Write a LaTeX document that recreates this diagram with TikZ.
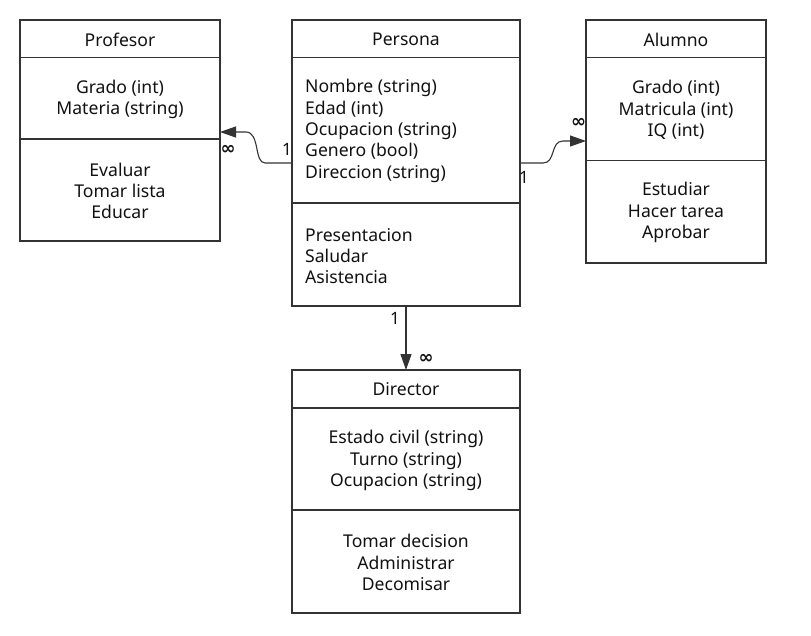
\documentclass[tikz,border=0pt]{standalone}
\usepackage{fontspec}
\setmainfont{Noto Sans}
\newfontfamily\symfont{DejaVu Sans}
\usetikzlibrary{arrows.meta}
\definecolor{ln}{HTML}{333333}
\definecolor{tx}{HTML}{111111}
\tikzset{
  umlbox/.style={draw=ln,line width=1.6pt,rectangle,inner sep=0pt,outer sep=0pt,anchor=north west},
  sep/.style={draw=ln,line width=1.6pt},
  txt/.style={text=tx,font=\fontsize{17.6}{21.3}\selectfont,inner sep=0pt,align=center},
  txtl/.style={text=tx,font=\fontsize{17.6}{21.3}\selectfont,inner sep=0pt,align=left,anchor=west},
  conn/.style={draw=ln,line width=1.1pt,-{Triangle[length=16pt,width=11pt]}},
  mult/.style={text=tx,font=\fontsize{17}{18}\selectfont,inner sep=0pt},
  inf/.style={text=tx,font=\symfont\bfseries\fontsize{18}{18}\selectfont,inner sep=0pt}
}
\begin{document}
\begin{tikzpicture}[x=1pt,y=-1pt]
\useasboundingbox (0,0) rectangle (811,635);

% Profesor
\node[umlbox,minimum width=200pt,minimum height=221pt] (prof) at (20,20) {};
\draw[sep] (20,57.5) -- (220,57.5);
\draw[sep] (20,139) -- (220,139);
\node[txt] (profT) at (120,39.5) {Profesor};
\node[txt] (profA) at (120,99.5) {Grado (int)\\Materia (string)};
\node[txt] (profM) at (120,191) {Evaluar\\Tomar lista\\Educar};

% Persona
\node[umlbox,minimum width=228pt,minimum height=286pt] (pers) at (292,20) {};
\draw[sep] (292,57.5) -- (520,57.5);
\draw[sep] (292,203) -- (520,203);
\node[txt] (persT) at (406,39.5) {Persona};
\node[txtl] (persA) at (305,131) {Nombre (string)\\Edad (int)\\Ocupacion (string)\\Genero (bool)\\Direccion (string)};
\node[txtl] (persM) at (305,256) {Presentacion\\Saludar\\Asistencia};

% Alumno
\node[umlbox,minimum width=180pt,minimum height=243pt] (alum) at (586,20) {};
\draw[sep] (586,57.5) -- (766,57.5);
\draw[sep] (586,160.5) -- (766,160.5);
\node[txt] (alumT) at (676,39.5) {Alumno};
\node[txt] (alumA) at (676,110) {Grado (int)\\Matricula (int)\\IQ (int)};
\node[txt] (alumM) at (676,212.5) {Estudiar\\Hacer tarea\\Aprobar};

% Director
\node[umlbox,minimum width=228pt,minimum height=243pt] (dir) at (292,370) {};
\draw[sep] (292,408) -- (520,408);
\draw[sep] (292,510) -- (520,510);
\node[txt] (dirT) at (406,389.5) {Director};
\node[txt] (dirA) at (406,460.5) {Estado civil (string)\\Turno (string)\\Ocupacion (string)};
\node[txt] (dirM) at (406,562.5) {Tomar decision\\Administrar\\Decomisar};

% connector anchor points
\coordinate (pL) at (292,163);
\coordinate (profR) at (220,132);
\coordinate (pR) at (520,163);
\coordinate (alumL) at (586,141);
\coordinate (pB) at (406,306);
\coordinate (dirTop) at (406,370);

\draw[conn] (pL) -- (265,163) .. controls (254,163) and (260,132) .. (246,132) -- (profR);
\draw[conn] (pR) -- (543,163) .. controls (556,163) and (550,141) .. (563,141) -- (alumL);
\draw[conn] (pB) -- (dirTop);

% multiplicities
\node[mult] (m1) at (287,149) {1};
\node[inf] (i1) at (228,150) {∞};
\node[mult] (m2) at (524,177) {1};
\node[inf] (i2) at (578.5,123) {∞};
\node[mult] (m3) at (395,318) {1};
\node[inf] (i3) at (426,359) {∞};
\end{tikzpicture}
\end{document}
